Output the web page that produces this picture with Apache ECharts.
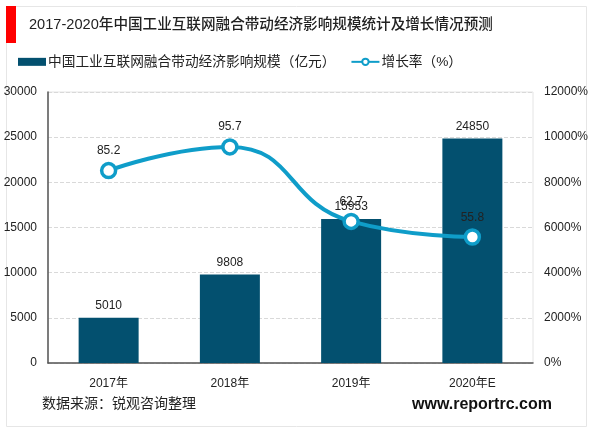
<!DOCTYPE html>
<html>
<head>
<meta charset="utf-8">
<script src="https://cdn.jsdelivr.net/npm/echarts@6/dist/echarts.min.js"></script>
<style>
html,body{margin:0;padding:0;background:#fff;}
#main{width:600px;height:433px;}
</style>
</head>
<body>
<div id="main"></div>
<script>
var categories = ['2017年', '2018年', '2019年', '2020年E'];
var scaleValues = [5010, 9808, 15953, 24850];
var growthValues = [85.2, 95.7, 62.7, 55.8];
var titleText = '2017-2020年中国工业互联网融合带动经济影响规模统计及增长情况预测';
var barName = '中国工业互联网融合带动经济影响规模（亿元）';
var lineName = '增长率（%）';
var sourceText = '数据来源：锐观咨询整理';
var siteText = 'www.reportrc.com';

var fontFamily = '"Liberation Sans","Noto Sans CJK SC",sans-serif';
var myChart = echarts.init(document.getElementById('main'), null, {renderer: 'canvas'});
var option = {
	animation: false,
	backgroundColor: '#fff',
	textStyle: {fontFamily: fontFamily},
	grid: {left: 48, right: 67, top: 92, bottom: 70, show: true, borderColor: '#e4e4e4', borderWidth: 1},
	legend: {
		left: 18,
		top: 55,
		padding: 0,
		itemGap: 15,
		itemWidth: 28,
		itemHeight: 8,
		symbolSize: 12,
		textStyle: {fontSize: 13.7, color: '#222', padding: [0, 0, 0, -3]},
		data: [
			{name: barName, icon: 'rect'},
			{name: lineName}
		]
	},
	xAxis: {
		type: 'category',
		data: categories,
		axisLine: {lineStyle: {color: '#555', width: 1.5}},
		axisTick: {show: false},
		axisLabel: {color: '#222', fontSize: 12, margin: 15}
	},
	yAxis: [
		{
			type: 'value',
			min: 0,
			max: 30000,
			interval: 5000,
			axisLine: {show: true, lineStyle: {color: '#555', width: 1.5}},
			axisTick: {show: false},
			axisLabel: {
				color: '#222',
				fontSize: 12,
				margin: 11,
				formatter: function (v) { return String(v); }
			},
			splitLine: {lineStyle: {color: '#d9d9d9', type: 'dashed'}}
		},
		{
			type: 'value',
			min: 0,
			max: 120,
			interval: 20,
			axisLine: {show: false},
			axisTick: {show: false},
			axisLabel: {
				color: '#222',
				fontSize: 12,
				margin: 11,
				formatter: function (v) { return (v * 100) + '%'; }
			},
			splitLine: {show: false}
		}
	],
	series: [
		{
			name: barName,
			type: 'bar',
			data: scaleValues,
			barWidth: 60,
			itemStyle: {color: '#03506f'},
			label: {show: true, position: 'top', distance: 6, color: '#222', fontSize: 12}
		},
		{
			name: lineName,
			type: 'line',
			yAxisIndex: 1,
			data: growthValues,
			smooth: 0.5,
			symbol: 'circle',
			symbolSize: 14,
			lineStyle: {color: '#0f9dc9', width: 4},
			itemStyle: {color: '#fff', borderColor: '#0f9dc9', borderWidth: 3.5},
			label: {show: true, position: 'top', distance: 5, color: '#222', fontSize: 12}
		}
	],
	graphic: [
		{type: 'rect', shape: {x: 6.5, y: 6.5, width: 580, height: 420}, style: {fill: 'none', stroke: '#e6e6e6', lineWidth: 1}, silent: true},
		{type: 'rect', shape: {x: 6, y: 6, width: 10, height: 37}, style: {fill: '#ff0000'}, silent: true},
		{type: 'text', left: 29, top: 18, style: {text: titleText, fill: '#222', font: '500 14.6px ' + fontFamily}},
		{type: 'text', left: 42, top: 397, style: {text: sourceText, fill: '#222', font: '14px ' + fontFamily}},
		{type: 'text', left: 412, top: 397, style: {text: siteText, fill: '#111', font: 'bold 16px ' + fontFamily}}
	]
};
myChart.setOption(option, true);
</script>
</body>
</html>
